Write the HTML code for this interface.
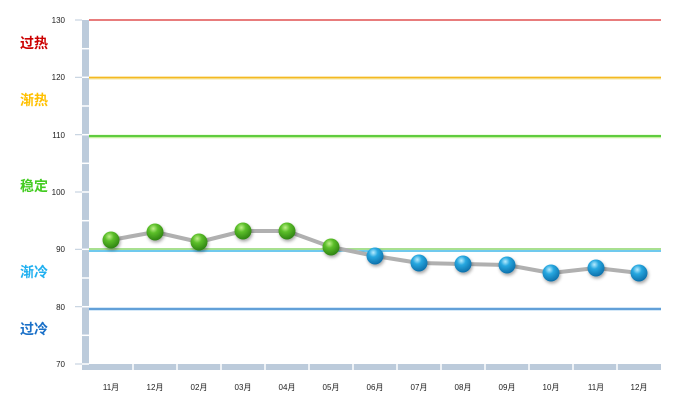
<!DOCTYPE html>
<html><head><meta charset="utf-8"><style>
body{margin:0;background:#fff;}
svg{display:block;font-family:"Liberation Sans","Noto Sans CJK SC",sans-serif;}
</style></head><body>
<svg width="686" height="403" viewBox="0 0 686 403">
<defs>
<radialGradient id="g" cx="0.4" cy="0.3" r="0.75">
<stop offset="0" stop-color="#bff08a"/><stop offset="0.35" stop-color="#5cbf2a"/><stop offset="1" stop-color="#2a7d10"/></radialGradient>
<radialGradient id="b" cx="0.4" cy="0.3" r="0.75">
<stop offset="0" stop-color="#b8ecff"/><stop offset="0.35" stop-color="#28a8e0"/><stop offset="1" stop-color="#0a6aa5"/></radialGradient>
<filter id="sh" x="-50%" y="-50%" width="200%" height="200%"><feDropShadow dx="1" dy="2" stdDeviation="1.5" flood-color="#000" flood-opacity="0.35"/></filter>
</defs>
<!-- left bar -->
<rect x="82" y="20" width="7" height="350" fill="#bccbdb"/>
<g stroke="#fff" stroke-width="1.5">
<line x1="82" y1="48.7" x2="89" y2="48.7"/><line x1="82" y1="106" x2="89" y2="106"/><line x1="82" y1="163.3" x2="89" y2="163.3"/><line x1="82" y1="220.7" x2="89" y2="220.7"/><line x1="82" y1="278" x2="89" y2="278"/><line x1="82" y1="335.3" x2="89" y2="335.3"/>
<line x1="82" y1="77.3" x2="89" y2="77.3"/><line x1="82" y1="134.7" x2="89" y2="134.7"/><line x1="82" y1="192" x2="89" y2="192"/><line x1="82" y1="249.3" x2="89" y2="249.3"/><line x1="82" y1="306.7" x2="89" y2="306.7"/><line x1="82" y1="364" x2="89" y2="364"/>
</g>
<!-- bottom bar -->
<rect x="89" y="364" width="572" height="6" fill="#bccbdb"/>
<g stroke="#fff" stroke-width="1.5">
<line x1="133" y1="364" x2="133" y2="370"/><line x1="177" y1="364" x2="177" y2="370"/><line x1="221" y1="364" x2="221" y2="370"/><line x1="265" y1="364" x2="265" y2="370"/><line x1="309" y1="364" x2="309" y2="370"/><line x1="353" y1="364" x2="353" y2="370"/><line x1="397" y1="364" x2="397" y2="370"/><line x1="441" y1="364" x2="441" y2="370"/><line x1="485" y1="364" x2="485" y2="370"/><line x1="529" y1="364" x2="529" y2="370"/><line x1="573" y1="364" x2="573" y2="370"/><line x1="617" y1="364" x2="617" y2="370"/>
</g>
<!-- ticks -->
<g stroke="#bccbdb" stroke-width="1">
<line x1="75" y1="20" x2="82" y2="20"/><line x1="75" y1="77.3" x2="82" y2="77.3"/><line x1="75" y1="134.7" x2="82" y2="134.7"/><line x1="75" y1="192" x2="82" y2="192"/><line x1="75" y1="249.3" x2="82" y2="249.3"/><line x1="75" y1="306.7" x2="82" y2="306.7"/><line x1="75" y1="364" x2="82" y2="364"/>
</g>
<g font-size="8" fill="#222" text-anchor="end">
<text x="65" y="23">130</text><text x="65" y="80">120</text><text x="65" y="138">110</text><text x="65" y="195">100</text><text x="65" y="252">90</text><text x="65" y="310">80</text><text x="65" y="367">70</text>
</g>
<!-- zone lines -->
<line x1="89" y1="20" x2="661" y2="20" stroke="#e05050" stroke-width="1.5"/>
<line x1="89" y1="78" x2="661" y2="78" stroke="#f5e6a0" stroke-width="3"/>
<line x1="89" y1="77.5" x2="661" y2="77.5" stroke="#f5b820" stroke-width="1.5"/>
<line x1="89" y1="136.5" x2="661" y2="136.5" stroke="#c8f0a0" stroke-width="3.5"/>
<line x1="89" y1="136" x2="661" y2="136" stroke="#3cc020" stroke-width="1.5"/>
<line x1="89" y1="249" x2="661" y2="249" stroke="#a8e090" stroke-width="2"/>
<line x1="89" y1="251" x2="661" y2="251" stroke="#40b8e8" stroke-width="1.5"/>
<line x1="89" y1="309" x2="661" y2="309" stroke="#a8d0f0" stroke-width="3"/>
<line x1="89" y1="309" x2="661" y2="309" stroke="#4a90d0" stroke-width="1.5"/>
<!-- zone labels -->
<g font-size="14" font-weight="bold">
<text x="20" y="48" fill="#cc0000">过热</text>
<text x="20" y="105" fill="#ffc000">渐热</text>
<text x="20" y="191" fill="#44cc22">稳定</text>
<text x="20" y="277" fill="#20b0f0">渐冷</text>
<text x="20" y="334" fill="#1a70c8">过冷</text>
</g>
<!-- series line -->
<polyline fill="none" stroke="#b0b0b0" stroke-width="4" stroke-linejoin="round" points="111,240 155,232 199,242 243,231 287,231 331,247 375,256 419,263 463,264 507,265 551,273 596,268 639,273"/>
<g filter="url(#sh)">
<circle cx="111" cy="240" r="8.5" fill="url(#g)"/>
<circle cx="155" cy="232" r="8.5" fill="url(#g)"/>
<circle cx="199" cy="242" r="8.5" fill="url(#g)"/>
<circle cx="243" cy="231" r="8.5" fill="url(#g)"/>
<circle cx="287" cy="231" r="8.5" fill="url(#g)"/>
<circle cx="331" cy="247" r="8.5" fill="url(#g)"/>
<circle cx="375" cy="256" r="8.5" fill="url(#b)"/>
<circle cx="419" cy="263" r="8.5" fill="url(#b)"/>
<circle cx="463" cy="264" r="8.5" fill="url(#b)"/>
<circle cx="507" cy="265" r="8.5" fill="url(#b)"/>
<circle cx="551" cy="273" r="8.5" fill="url(#b)"/>
<circle cx="596" cy="268" r="8.5" fill="url(#b)"/>
<circle cx="639" cy="273" r="8.5" fill="url(#b)"/>
</g>
<!-- x labels -->
<g font-size="8" fill="#222" text-anchor="middle">
<text x="111" y="390">11月</text><text x="155" y="390">12月</text><text x="199" y="390">02月</text><text x="243" y="390">03月</text><text x="287" y="390">04月</text><text x="331" y="390">05月</text><text x="375" y="390">06月</text><text x="419" y="390">07月</text><text x="463" y="390">08月</text><text x="507" y="390">09月</text><text x="551" y="390">10月</text><text x="596" y="390">11月</text><text x="639" y="390">12月</text>
</g>
</svg>
</body></html>
